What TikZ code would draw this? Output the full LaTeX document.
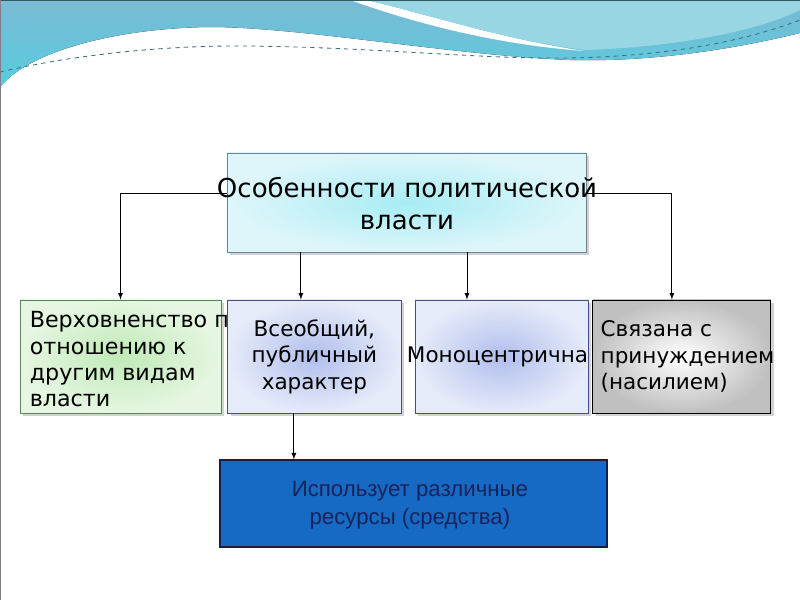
\documentclass[tikz,border=0pt]{standalone}
\usepackage{fontspec}
\setmainfont{DejaVu Sans}
\newfontfamily\resfont{Liberation Sans}
\usepackage{xcolor}
\usepackage{tikz}
\usetikzlibrary{arrows, positioning, shadows}
\definecolor{wavetop}{RGB}{122,186,212}
\definecolor{wavelow}{RGB}{88,204,222}
\definecolor{wavelight}{RGB}{152,214,228}
\definecolor{wavedash}{RGB}{60,112,122}
\definecolor{titlein}{RGB}{168,236,244}
\definecolor{titleout}{RGB}{222,246,250}
\definecolor{greenin}{RGB}{192,234,182}
\definecolor{greenout}{RGB}{230,246,226}
\definecolor{bluein}{RGB}{176,190,236}
\definecolor{blueout}{RGB}{230,235,250}
\definecolor{grayout}{RGB}{192,192,192}
\definecolor{resfill}{RGB}{22,106,196}
\definecolor{resline}{RGB}{20,30,70}
\definecolor{restext}{RGB}{25,35,90}
\tikzstyle{arrow} = [->, >=latex, line width=0.6pt]
\tikzstyle{box} = [rectangle, draw=black!70, line width=0.6pt, minimum height=2.825cm, drop shadow={opacity=0.35, shadow xshift=2pt, shadow yshift=-2pt}]
\tikzstyle{boxtext} = [inner sep=0pt, font=\fontsize{15.3}{18.8}\selectfont]

\begin{document}
\begin{tikzpicture}[x=0.025cm, y=-0.025cm]
  \useasboundingbox (0,0) rectangle (800,600);

  % Background
  \fill[white] (0,0) rectangle (800,600);
  \fill[top color=wavetop, bottom color=wavelow] (0,0) -- (800,0) -- (800,33)
    .. controls (730,50) and (650,62) .. (570,60)
    .. controls (450,55) and (300,27) .. (210,27)
    .. controls (120,28) and (30,50) .. (0,87) -- cycle;
  \fill[white] (350,0) .. controls (420,25) and (500,45) .. (585,51)
    .. controls (500,39) and (420,12) .. (366,0) -- cycle;
  \fill[wavelight] (366,0) -- (800,0) -- (800,10)
    .. controls (760,30) and (680,47) .. (585,50)
    .. controls (500,39) and (420,12) .. (366,0) -- cycle;
  \draw[wavedash, dashed, line width=0.6pt] (0,72) .. controls (60,58) and (150,45) .. (250,46)
    .. controls (400,48) and (500,62) .. (600,57)
    .. controls (700,52) and (760,35) .. (800,20);
  \draw[wavedash!80!black, line width=2pt] (0,0) -- (800,0);
  \draw[gray, line width=1.5pt] (0,0) -- (0,600);

  % Nodes
  \node (title) [box, draw=black!45!cyan!60!gray, inner color=titlein, outer color=titleout, minimum width=8.975cm, minimum height=2.475cm] at (406.5,202.5) {};
  \node (titletext) [inner sep=0pt, align=center, font=\fontsize{18.5}{22.8}\selectfont] at (407,204) {Особенности политической\\власти};

  \node (box1) [box, draw=black!40!green!30!gray, inner color=greenin, outer color=greenout, minimum width=5.025cm] at (120.5,356.5) {};
  \node (text1) [boxtext, align=left, anchor=west, font=\fontsize{15.8}{18.8}\selectfont] at ([xshift=0.25cm, yshift=-0.07cm]box1.west) {Верховненство по\\отношению к\\другим видам\\власти};

  \node (box2) [box, draw=black!50!blue!40!gray, inner color=bluein, outer color=blueout, minimum width=4.325cm, right=0.15cm of box1] {};
  \node (text2) [boxtext, align=center] at (box2.center) {Всеобщий,\\публичный\\характер};

  \node (box3) [box, draw=black!50!blue!40!gray, inner color=bluein, outer color=blueout, minimum width=4.325cm, right=0.33cm of box2] {};
  \node (text3) [boxtext] at ([xshift=-0.1cm]box3.center) {Моноцентрична};

  \node (box4) [box, draw=black, inner color=white, outer color=grayout, minimum width=4.45cm, right=0.1cm of box3] {};
  \node (text4) [boxtext, align=left, anchor=west] at ([xshift=0.2cm]box4.west) {Связана с\\принуждением\\(насилием)};

  \node (box5) [rectangle, draw=resline, line width=0.8pt, fill=resfill, minimum width=9.675cm, minimum height=2.175cm] at (413.5,503.5) {};
  \node (text5) [inner sep=0pt, align=center, text=restext, font=\resfont\fontsize{15.8}{20}\selectfont] at ([xshift=-0.09cm, yshift=-0.05cm]box5.center) {Использует различные\\ресурсы (средства)};

  % Arrows
  \coordinate (in1) at (box1.north);
  \coordinate (in2) at ([xshift=-0.3375cm]box2.north);
  \coordinate (in3) at ([xshift=-0.8625cm]box3.north);
  \coordinate (in4) at ([xshift=-0.25cm]box4.north);
  \coordinate (out2) at ([xshift=-0.5125cm]box2.south);
  \draw[arrow] (title.west |- 0,193) -| (in1);
  \draw[arrow] (title.east |- 0,193) -| (in4);
  \draw[arrow] (in2 |- title.south) -- (in2);
  \draw[arrow] (in3 |- title.south) -- (in3);
  \draw[arrow] (out2) -- (out2 |- box5.north);

\end{tikzpicture}
\end{document}
